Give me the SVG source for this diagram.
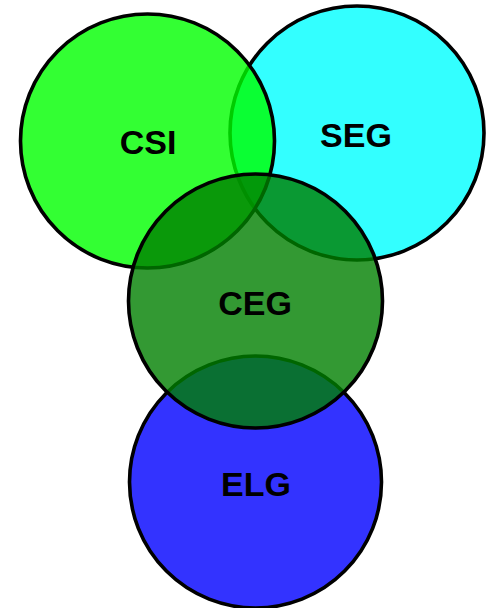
<svg xmlns="http://www.w3.org/2000/svg" width="489" height="608" viewBox="0 0 489 608">
<style>
.set{stroke:#000;stroke-width:3.6;fill-opacity:0.8}
.lbl{font-family:"Liberation Sans",Arial,sans-serif;font-weight:bold;font-size:34px;text-anchor:middle;fill:#000}
</style>
<rect width="489" height="608" fill="#fff"/>
<g id="ELG"><circle class="set" cx="255.5" cy="482" r="126" fill="#0000ff"/><text class="lbl" x="256" y="496">ELG</text></g>
<g id="SEG"><circle class="set" cx="357" cy="133" r="127" fill="#00ffff"/><text class="lbl" x="356" y="147">SEG</text></g>
<g id="CSI"><circle class="set" cx="147.5" cy="141" r="127" fill="#00ff00"/><text class="lbl" x="148" y="154">CSI</text></g>
<g id="CEG"><circle class="set" cx="255.5" cy="301" r="127" fill="#008000"/><text class="lbl" x="255" y="315">CEG</text></g>
<g id="connectors"/>
</svg>
